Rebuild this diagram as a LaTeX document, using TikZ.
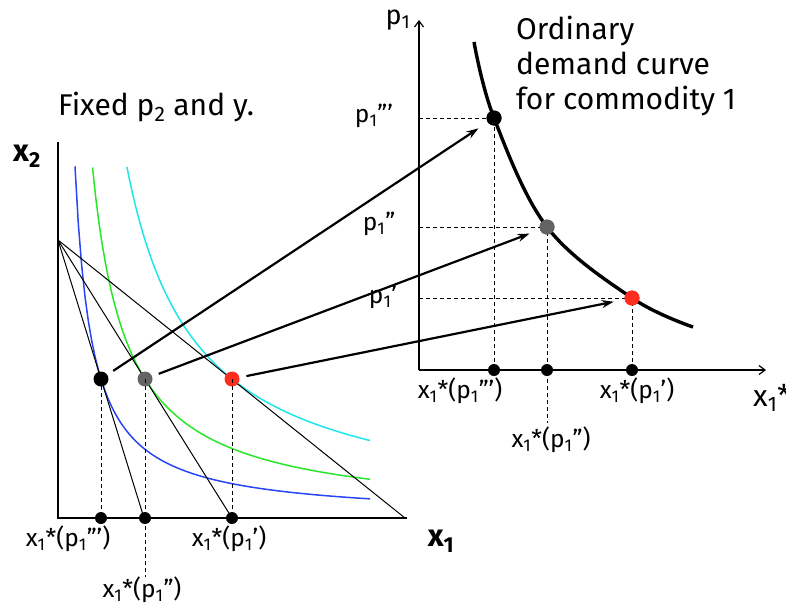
\documentclass[tikz,border=0pt]{standalone}
\usepackage{fontspec}
\setmainfont{Fira Sans}
\usetikzlibrary{arrows.meta,positioning,calc}
\definecolor{IcBlue}{HTML}{2846F5}
\definecolor{IcGreen}{HTML}{28E628}
\definecolor{IcCyan}{HTML}{1EE6EB}
\definecolor{PtRed}{HTML}{FF2D1E}
\definecolor{PtGray}{HTML}{646464}
\newcommand{\pone}{p\textsubscript{1}}
\newcommand{\xstar}[1]{x\textsubscript{1}*(\pone#1)}

\begin{document}
\begin{tikzpicture}[x=1pt, y=-1pt,
    axisline/.style={line width=1.6pt},
    budget/.style={line width=1pt},
    guide/.style={line width=0.9pt, dash pattern=on 4pt off 3pt},
    icurve/.style={line width=1.5pt, domain=#1:312, samples=90},
    bigdot/.style={circle, inner sep=0pt, minimum size=15pt, fill=#1},
    axdot/.style={circle, inner sep=0pt, minimum size=12pt, fill=black},
    mapto/.style={line width=2.2pt, shorten <=7pt, shorten >=11pt,
      -{Stealth[length=12pt, width=8pt, inset=4pt]}},
    lbl/.style={font=\fontsize{24.5}{24.5}\selectfont, inner sep=1pt},
    big/.style={font=\fontsize{30}{35}\selectfont, align=left, inner sep=0pt}]
  \useasboundingbox (0,0) rectangle (786,606);

  %% ── left panel: preferences and budget lines ─────────────
  \coordinate (origL) at (58,518);
  \coordinate (topL)  at (58,142);
  \coordinate (endL)  at (407,518);
  \coordinate (yint)  at (58,240);
  \coordinate (xintA) at (144,518);
  \coordinate (xintB) at (232,518);
  \coordinate (xintC) at (405,518);

  % indifference curves x1*x2 = const
  \draw[icurve=17.0, IcBlue]  plot ({58+\x},{518-59.77/\x*100});
  \draw[icurve=34.5, IcGreen] plot ({58+\x},{518-120.93/\x*100});
  \draw[icurve=68.9, IcCyan]  plot ({58+\x},{518-241.86/\x*100});

  \draw[budget] (yint) -- (xintA);
  \draw[budget] (yint) -- (xintB);
  \draw[budget] (yint) -- (xintC);

  \draw[axisline] (topL) -- (origL) -- (endL);

  % optimal bundles
  \node[bigdot=black]  (blk) at (101,379) {};
  \node[bigdot=PtGray] (gry) at (145,379) {};
  \node[bigdot=PtRed]  (red) at (232,379) {};

  \node[axdot] (xA) at (101,518) {};
  \node[axdot] (xB) at (145,518) {};
  \node[axdot] (xC) at (232,518) {};
  \coordinate (xBext) at (145,577);

  \draw[guide] (blk.center) -- (xA.center);
  \draw[guide] (gry.center) -- (xBext);
  \draw[guide] (red.center) -- (xC.center);

  \node[lbl] (lxA) at (68,539) {\xstar{'''}};
  \node[lbl, anchor=north] (lxB) at ($(xBext)+(-3,-1)$) {\xstar{''}};
  \node[lbl] (lxC) at (229,539) {\xstar{'}};

  \node[font=\fontsize{31}{31}\selectfont\bfseries] (lx2) at (27,156) {x\textsubscript{2}};
  \node[font=\fontsize{31}{31}\selectfont\bfseries] (lx1) at (441,541) {x\textsubscript{1}};
  \node[font=\fontsize{30}{30}\selectfont] (fixed) at (156,107) {Fixed p\textsubscript{2} and y.};

  %% ── right panel: ordinary demand curve ──────────────────
  \coordinate (origR) at (419,370);
  \coordinate (topR)  at (419,20);
  \coordinate (endR)  at (766,370);

  \node[bigdot=black]  (dblk) at (494,118) {};
  \node[bigdot=PtGray] (dgry) at (547,227) {};
  \node[bigdot=PtRed]  (dred) at (632,298) {};

  \node[axdot] (dxA) at (494,370) {};
  \node[axdot] (dxB) at (547,370) {};
  \node[axdot] (dxC) at (632,370) {};
  \coordinate (dxBext) at (547,423);

  \draw[guide] (dblk.center -| origR) -- (dblk.center) -- (dxA.center);
  \draw[guide] (dgry.center -| origR) -- (dgry.center) -- (dxBext);
  \draw[guide] (dred.center -| origR) -- (dred.center) -- (dxC.center);

  \draw[line width=1.2pt, -{Straight Barb[length=6pt, width=9pt]}] (origR) -- (topR);
  \draw[line width=1.2pt, -{Straight Barb[length=6pt, width=9pt]}] (origR) -- (endR);

  \draw[line width=3.4pt] plot[smooth, tension=0.6] coordinates
    {(474,42) (dblk.center) (dgry.center) (dred.center) (693,327)};

  % redraw dots over the curve
  \fill (dblk) circle (7.5pt);
  \fill[PtGray] (dgry) circle (7.5pt);
  \fill[PtRed] (dred) circle (7.5pt);

  \node[lbl] (pA) at (374,116) {\pone'''};
  \node[lbl] (pB) at (379,224) {\pone''};
  \node[lbl] (pC) at (383,297) {\pone'};
  \node[font=\fontsize{27}{27}\selectfont] (py) at (398,20) {\pone};

  \node[lbl] (ldxA) at (460,391) {\xstar{'''}};
  \node[lbl, anchor=north] (ldxB) at ($(dxBext)+(4,3)$) {\xstar{''}};
  \node[lbl] (ldxC) at (637,391) {\xstar{'}};
  \node[font=\fontsize{30}{30}\selectfont, anchor=west, inner sep=0pt] (ldx1) at (753,398) {x\textsubscript{1}*};

  \node[big, anchor=north west] (ttl) at (516,16)
    {Ordinary\\demand curve\\for commodity 1};

  %% ── mapping arrows ───────────────────────────────────────
  \draw[mapto] (blk) -- (dblk);
  \draw[mapto] (gry) -- (dgry);
  \draw[mapto] (red) -- (dred);

\end{tikzpicture}
\end{document}
